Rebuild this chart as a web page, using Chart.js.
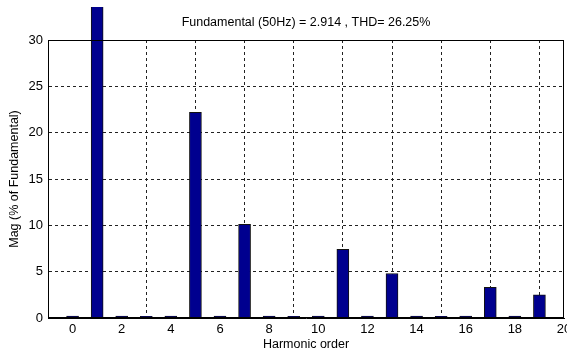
<!DOCTYPE html>
<html>
<head>
<meta charset="utf-8">
<script src="https://cdn.jsdelivr.net/npm/chart.js@4/dist/chart.umd.min.js"></script>
<style>
  html, body { margin: 0; padding: 0; background: #fff; }
  #wrap { width: 567px; height: 354px; }
</style>
</head>
<body>
<div id="wrap"><canvas id="c" width="567" height="354"></canvas></div>
<script>
const harmonics = [0, 1, 2, 3, 4, 5, 6, 7, 8, 9, 10, 11, 12, 13, 14, 15, 16, 17, 18, 19];
const magnitudes = [0.2, 100, 0.2, 0.18, 0.2, 22.2, 0.2, 10.1, 0.2, 0.18, 0.2, 7.4, 0.2, 4.8, 0.2, 0.18, 0.2, 3.3, 0.2, 2.5];
const xTickValues = [0, 2, 4, 6, 8, 10, 12, 14, 16, 18, 20];
const yTickValues = [0, 5, 10, 15, 20, 25, 30];
const titleText = 'Fundamental (50Hz) = 2.914 , THD= 26.25%';
const xLabel = 'Harmonic order';
const yLabel = 'Mag (% of Fundamental)';

const FONT = "'Liberation Sans', Arial, sans-serif";

const boxPlugin = {
  id: 'box',
  afterDatasetsDraw(chart) {
    const {ctx, chartArea: a} = chart;
    ctx.save();
    ctx.strokeStyle = '#000';
    ctx.lineWidth = 1;
    ctx.strokeRect(Math.round(a.left) + 0.5, Math.round(a.top) + 0.5,
                   Math.round(a.right - a.left) - 1, Math.round(a.bottom - a.top) - 1);
    ctx.restore();
  }
};

new Chart(document.getElementById('c'), {
  type: 'bar',
  data: {
    datasets: [{
      data: harmonics.map((h, i) => ({x: h, y: magnitudes[i]})),
      backgroundColor: '#00008f',
      borderColor: '#111',
      borderWidth: 1,
      barThickness: 12,
      clip: {left: 0, top: 33, right: 0, bottom: 0}
    }]
  },
  options: {
    responsive: false,
    animation: false,
    devicePixelRatio: 1,
    layout: {padding: {left: 0, right: 3, top: 0, bottom: 0}},
    plugins: {
      legend: {display: false},
      tooltip: {enabled: false},
      title: {
        display: true,
        fullSize: false,
        text: titleText,
        color: '#000',
        font: {family: FONT, size: 12.5, weight: 'normal'},
        padding: {top: 15, bottom: 10}
      }
    },
    scales: {
      x: {
        type: 'linear',
        min: -1,
        max: 20,
        offset: false,
        afterBuildTicks(scale) { scale.ticks = xTickValues.map(v => ({value: v})); },
        afterFit(scale) { scale.height = 36; scale.paddingLeft = 0; scale.paddingRight = 0; },
        ticks: {
          color: '#000',
          font: {family: FONT, size: 13},
          padding: 4,
          maxRotation: 0,
          autoSkip: false
        },
        grid: {color: '#222', lineWidth: 1, drawTicks: false},
        border: {display: true, color: '#000', width: 1, dash: [3, 3]},
        title: {
          display: true,
          text: xLabel,
          color: '#000',
          font: {family: FONT, size: 12.5},
          padding: {top: 1.5, bottom: 1.5}
        }
      },
      y: {
        min: 0,
        max: 30,
        afterBuildTicks(scale) { scale.ticks = yTickValues.map(v => ({value: v})); },
        afterFit(scale) { scale.width = 48; scale.paddingTop = 0; scale.paddingBottom = 0; },
        ticks: {
          color: '#000',
          font: {family: FONT, size: 13},
          padding: 5
        },
        grid: {color: '#222', lineWidth: 1, drawTicks: false},
        border: {display: true, color: '#000', width: 1, dash: [3, 3]},
        title: {
          display: true,
          text: yLabel,
          color: '#000',
          font: {family: FONT, size: 12.5},
          padding: {top: 7.5, bottom: 7.5}
        }
      }
    }
  },
  plugins: [boxPlugin]
});
</script>
</body>
</html>
